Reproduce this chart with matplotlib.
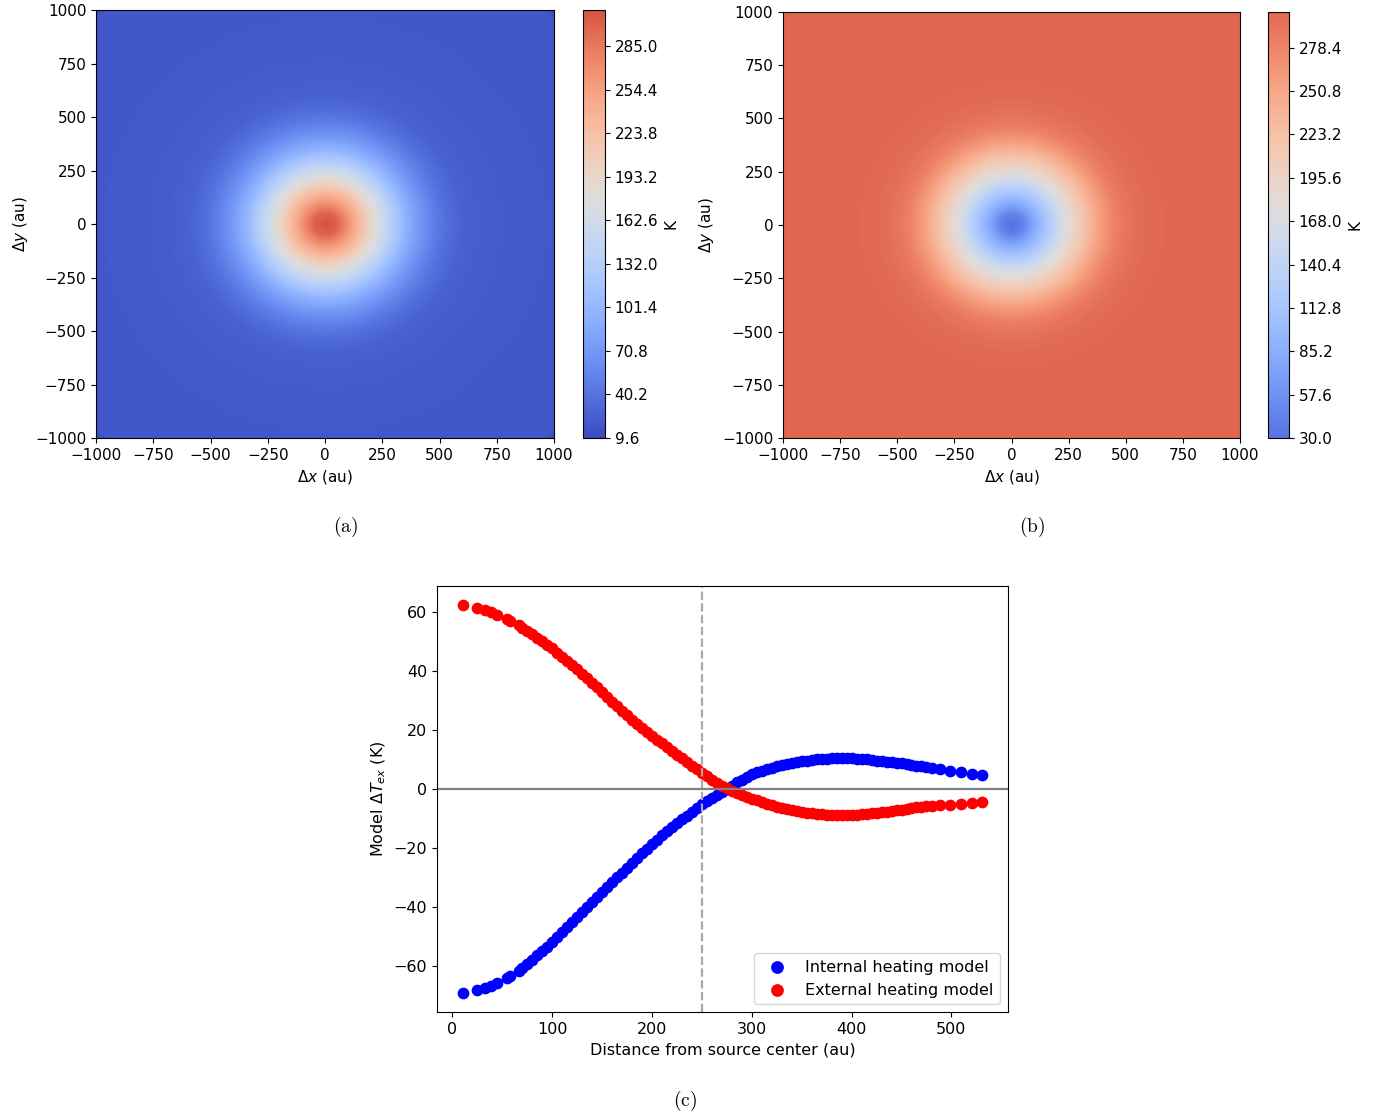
import numpy as np
import matplotlib
matplotlib.use("Agg")
import matplotlib.pyplot as plt
from matplotlib.colors import Normalize, ListedColormap
from matplotlib.cm import ScalarMappable

# ---------------- data ----------------
# radial temperature profiles (a) and (b)
radius_a = [0, 50, 100, 150, 200, 250, 300, 350, 400, 450, 500, 550, 600, 700, 800, 1000, 1380, 1415]
internal_T = [310.4, 300, 265, 230, 192, 158, 127, 98, 75, 57, 43, 33, 27, 23, 21, 20, 19, 9.6]
radius_b = [0, 50, 100, 150, 200, 250, 300, 350, 400, 450, 500, 550, 600, 700, 800, 1000, 1415]
external_T = [30.0, 45, 82, 115, 150, 183, 211, 238, 263, 281, 291, 296, 299, 300.5, 301, 301, 301.1]

cbar_ticks_a = [9.6, 40.2, 70.8, 101.4, 132.0, 162.6, 193.2, 223.8, 254.4, 285.0]
cbar_ticks_b = [30.0, 57.6, 85.2, 112.8, 140.4, 168.0, 195.6, 223.2, 250.8, 278.4]
map_ticks = [-1000, -750, -500, -250, 0, 250, 500, 750, 1000]

# panel (c)
distance = [10.7, 24.5, 32.5, 39.2, 45.2, 55.2, 58.2, 66.5,
            70, 75, 80, 85, 90, 95, 100, 105, 110, 115,
            120, 125, 130, 135, 140, 145, 150, 155, 160, 165,
            170, 175, 180, 185, 190, 195, 200, 205, 210, 215,
            220, 225, 230, 235, 240, 245, 250, 255, 260, 265,
            270, 275, 280, 285, 290, 295, 300, 305, 310, 315,
            320, 325, 330, 335, 340, 345, 350, 355, 360, 365,
            370, 375, 380, 385, 390, 395, 400, 405, 410, 415,
            420, 425, 430, 435, 440, 445, 450, 455, 460, 465,
            470, 475, 481,
            488.7, 498.7, 509.7, 520.7, 530.7]

internal_dT = [-69.1, -68.1, -67.4, -66.7, -65.8, -64.1, -63.5, -61.6,
               -60.7, -59.4, -57.9, -56.5, -55.0, -53.5, -51.9, -50.3, -48.6, -46.9,
               -45.2, -43.5, -41.8, -40.2, -38.5, -36.8, -35.1, -33.4, -31.7, -30.0,
               -28.4, -26.7, -25.1, -23.5, -21.9, -20.3, -18.7, -17.2, -15.7, -14.3,
               -12.9, -11.6, -10.3, -9.1, -7.7, -6.5, -5.3, -4.2, -3.1, -2.1,
               -1.1, 0.0, 1.1, 2.2, 3.1, 4.0, 4.9, 5.6, 6.2, 6.7,
               7.2, 7.6, 8.0, 8.4, 8.7, 9.0, 9.3, 9.6, 9.8, 10.0,
               10.1, 10.2, 10.3, 10.3, 10.3, 10.3, 10.3, 10.2, 10.1, 10.0,
               9.8, 9.6, 9.4, 9.2, 9.0, 8.8, 8.6, 8.3, 8.0, 7.8,
               7.6, 7.4, 7.2,
               6.8, 6.1, 5.6, 5.2, 4.7]

external_dT = [62.2, 61.4, 60.6, 59.9, 59.1, 57.6, 57.0, 55.5,
               54.6, 53.6, 52.5, 51.3, 50.1, 48.9, 47.6, 46.2, 44.8, 43.3,
               41.9, 40.5, 39.1, 37.5, 36.0, 34.4, 32.8, 31.2, 29.6, 28.1,
               26.5, 25.0, 23.5, 22.1, 20.7, 19.3, 18.0, 16.7, 15.4, 14.1,
               12.9, 11.6, 10.3, 9.0, 7.8, 6.6, 5.3, 4.2, 3.1, 2.1,
               1.1, 0.2, -0.6, -1.3, -2.0, -2.7, -3.3, -3.9, -4.5, -5.0,
               -5.5, -6.0, -6.4, -6.8, -7.2, -7.5, -7.8, -8.1, -8.3, -8.5,
               -8.6, -8.7, -8.8, -8.8, -8.8, -8.8, -8.8, -8.7, -8.6, -8.5,
               -8.3, -8.1, -7.9, -7.7, -7.5, -7.3, -7.0, -6.8, -6.5, -6.3,
               -6.1, -5.9, -5.7,
               -5.5, -5.4, -5.2, -4.7, -4.4]

# ---------------- figure ----------------
plt.rcParams['font.size'] = 11
fig = plt.figure(figsize=(13.9, 11.18), dpi=100)

ax_a = fig.add_axes([0.0691, 0.6082, 0.3295, 0.3828])
cax_a = fig.add_axes([0.4194, 0.6082, 0.0158, 0.3828])
ax_b = fig.add_axes([0.5633, 0.6082, 0.3288, 0.3811])
cax_b = fig.add_axes([0.9122, 0.6082, 0.0151, 0.3811])
ax_c = fig.add_axes([0.3144, 0.0948, 0.4108, 0.3810])

grid = np.linspace(-1000, 1000, 401)
gx, gy = np.meshgrid(grid, grid)
rr = np.hypot(gx, gy)
field_a = np.interp(rr, radius_a, internal_T)
field_b = np.interp(rr, radius_b, external_T)

base = plt.get_cmap('coolwarm')

def trunc(lo, hi):
    return ListedColormap(base(np.linspace(lo, hi, 256)))

panels = [(ax_a, cax_a, field_a, cbar_ticks_a, trunc(0.0, 0.9), (9.6, 310.4)),
          (ax_b, cax_b, field_b, cbar_ticks_b, trunc(0.09, 0.86), (30.0, 301.1))]

for ax, cax, field, ticks, cm, (lo, hi) in panels:
    norm = Normalize(vmin=lo, vmax=hi)
    ax.imshow(field, extent=[-1000, 1000, -1000, 1000], origin='lower',
              cmap=cm, norm=norm, aspect='auto', interpolation='bilinear')
    ax.set_xticks(map_ticks)
    ax.set_yticks(map_ticks)
    ax.set_xlabel(r'$\Delta x$ (au)')
    ax.set_ylabel(r'$\Delta y$ (au)')
    sm = ScalarMappable(norm=norm, cmap=cm)
    cb = fig.colorbar(sm, cax=cax)
    cb.set_ticks(ticks)
    cb.set_ticklabels([f'{t:.1f}' for t in ticks])
    cb.set_label('K')

# panel (c)
fs_c = 11.5
ax_c.scatter(distance, internal_dT, color='blue', s=55, label='Internal heating model')
ax_c.scatter(distance, external_dT, color='red', s=55, label='External heating model')
ax_c.axhline(0, color='gray', lw=1.6)
ax_c.axvline(250, color='darkgray', lw=1.6, ls='--')
ax_c.set_xlabel('Distance from source center (au)', fontsize=fs_c)
ax_c.set_ylabel(r'Model $\Delta T_{ex}$ (K)', fontsize=fs_c)
ax_c.tick_params(labelsize=fs_c)
ax_c.legend(loc='lower right', fontsize=fs_c, markerscale=1.1)

# captions
for x, y, s in [(0.2486, 0.5283, '(a)'), (0.7424, 0.5283, '(b)'), (0.4928, 0.0152, '(c)')]:
    fig.text(x, y, r'$\mathrm{' + s + '}$', ha='center', va='center',
             fontsize=14, math_fontfamily='cm')

fig.savefig('out.png', dpi=100)
